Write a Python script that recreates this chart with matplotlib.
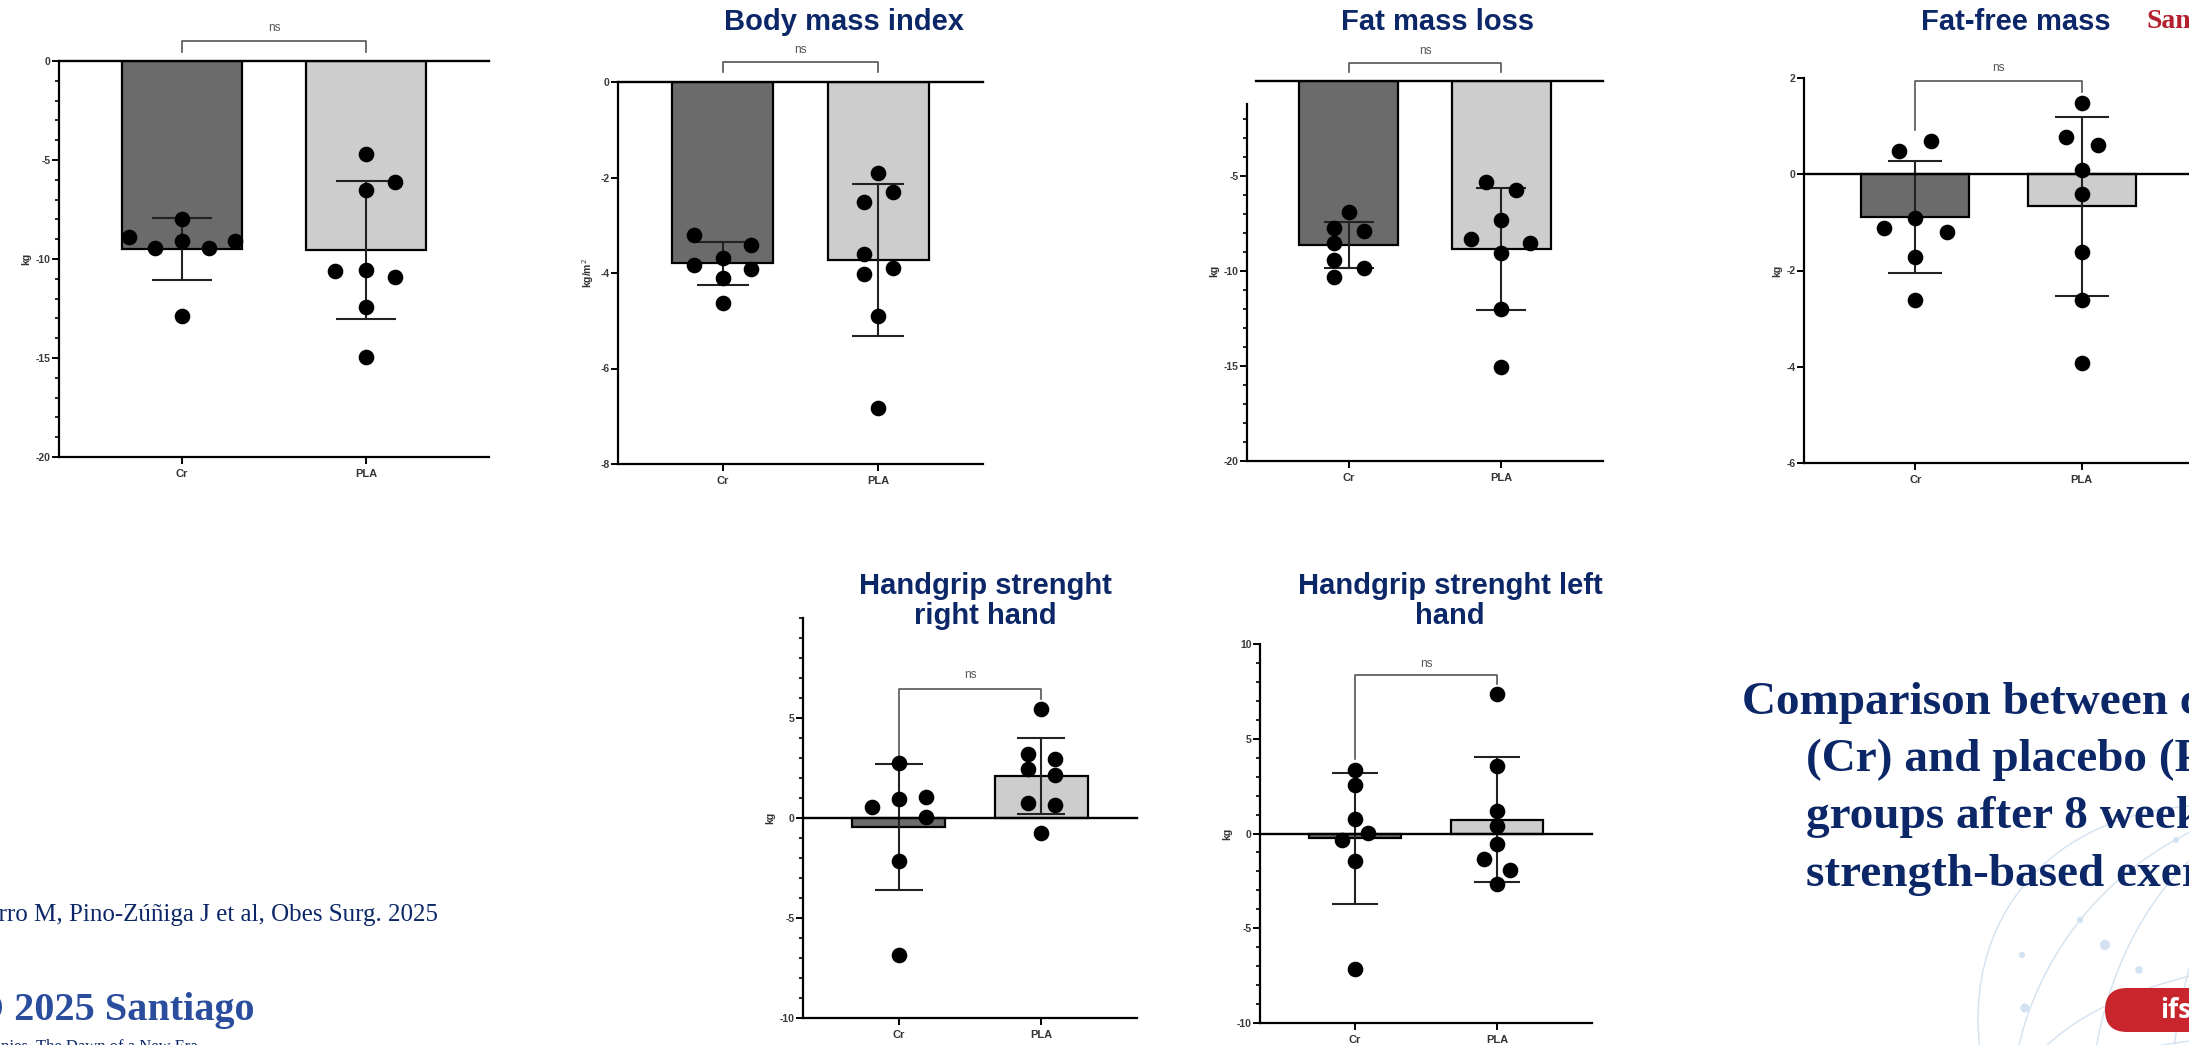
import matplotlib.pyplot as plt
import numpy as np
from matplotlib.patches import Ellipse, FancyBboxPatch
from matplotlib.ticker import FixedLocator

W, H = 2189, 1045
NAVY = "#0c2768"
CR_COLOR = "#6b6b6b"
PLA_COLOR = "#cdcdcd"

plt.rcParams["font.family"] = ["Liberation Sans", "DejaVu Sans"]
plt.rcParams["axes.unicode_minus"] = False

groups = ["Cr", "PLA"]

# body weight change (kg)
weight_mean = [-9.5, -9.55]
weight_sd = [1.55, 3.5]
weight_cr = [-8.9, -9.45, -8.0, -9.1, -9.45, -9.1, -12.9]
weight_cr_jitter = [-0.29, -0.145, 0, 0, 0.145, 0.29, 0]
weight_pla = [-4.7, -6.12, -6.54, -10.6, -10.55, -10.9, -12.43, -14.95]
weight_pla_jitter = [0, 0.16, 0, -0.166, 0, 0.16, 0, 0]

# body mass index change (kg/m2)
bmi_mean = [-3.80, -3.72]
bmi_sd = [0.45, 1.59]
bmi_cr = [-3.2, -3.83, -3.69, -4.11, -4.62, -3.41, -3.92]
bmi_cr_jitter = [-0.18, -0.18, 0, 0, 0, 0.18, 0.18]
bmi_pla = [-1.90, -2.31, -2.51, -3.60, -4.02, -3.90, -4.90, -6.82]
bmi_pla_jitter = [0, 0.09, -0.09, -0.09, -0.09, 0.09, 0, 0]

# fat mass change (kg)
fat_mean = [-8.64, -8.85]
fat_sd = [1.22, 3.22]
fat_cr = [-6.92, -7.73, -7.91, -8.50, -9.40, -9.83, -10.34]
fat_cr_jitter = [0, -0.098, 0.096, -0.098, -0.098, 0.096, -0.098]
fat_pla = [-5.31, -5.75, -7.33, -8.33, -8.50, -9.03, -12.02, -15.03]
fat_pla_jitter = [-0.098, 0.096, 0, -0.196, 0.19, 0, 0, 0]

# fat-free mass change (kg)
ffm_mean = [-0.89, -0.67]
ffm_sd = [1.17, 1.86]
ffm_cr = [0.49, 0.69, -0.91, -1.12, -1.21, -1.71, -2.62]
ffm_cr_jitter = [-0.096, 0.096, 0, -0.19, 0.19, 0, 0]
ffm_pla = [1.49, 0.78, 0.60, 0.08, -0.42, -1.62, -2.62, -3.93]
ffm_pla_jitter = [0, -0.094, 0.096, 0, 0, 0, 0, 0]

# handgrip right hand change (kg)
hgr_mean = [-0.45, 2.1]
hgr_sd = [3.16, 1.90]
hgr_cr = [0.55, 2.77, 0.97, 1.05, 0.05, -2.17, -6.87]
hgr_cr_jitter = [-0.19, 0, 0, 0.19, 0.19, 0, 0]
hgr_pla = [5.47, 3.18, 2.97, 2.47, 2.13, 0.75, 0.67, -0.75]
hgr_pla_jitter = [0, -0.097, 0.093, -0.097, 0.093, -0.097, 0.093, 0]

# handgrip left hand change (kg)
hgl_mean = [-0.25, 0.72]
hgl_sd = [3.45, 3.30]
hgl_cr = [3.37, 2.55, 0.79, 0.05, -0.35, -1.46, -7.15]
hgl_cr_jitter = [0, 0, 0, 0.094, -0.094, 0, 0]
hgl_pla = [7.38, 3.57, 1.18, 0.39, -0.53, -1.32, -1.93, -2.64]
hgl_pla_jitter = [0, 0, 0, 0, 0, -0.094, 0.094, 0]


def px_box(left, right, top, bottom):
    return [left / W, 1 - bottom / H, (right - left) / W, (bottom - top) / H]


def draw_panel(fig, box, ylim, means, sds, cr, cr_jit, pla, pla_jit,
               ylabel, yticks, minor, bracket, spine_top=None, zero_xmin=0):
    ax = fig.add_axes(px_box(*box), facecolor="none", zorder=2)
    ax.set_xlim(-0.67, 1.67)
    ax.set_ylim(*ylim)

    spacing_px = (box[1] - box[0]) / 2.34
    capsize = 0.165 * spacing_px * 72 / 100

    ax.bar([0, 1], means, width=0.65, color=[CR_COLOR, PLA_COLOR],
           edgecolor="black", linewidth=1.6, zorder=2)
    ax.errorbar([0, 1], means, yerr=sds, fmt="none", ecolor="#222222",
                elinewidth=1.5, capsize=capsize, capthick=1.5, zorder=3)
    ax.scatter(cr_jit, cr, s=105, color="black", zorder=4, clip_on=False)
    ax.scatter(1 + np.array(pla_jit), pla, s=105, color="black", zorder=4,
               clip_on=False)
    ax.axhline(0, xmin=zero_xmin, color="black", lw=1.7, zorder=3,
               clip_on=False)

    left_leg, top, right_leg, ns_y = bracket
    ax.plot([0, 0, 1, 1], [left_leg, top, top, right_leg], color="#555555",
            lw=1.2, clip_on=False)
    ax.text(0.5, ns_y, "ns", ha="center", va="center", fontsize=8.5,
            color="#555555", clip_on=False)

    for side in ["top", "right"]:
        ax.spines[side].set_visible(False)
    for side in ["left", "bottom"]:
        ax.spines[side].set_linewidth(1.6)
    spine_end = ylim[1] if spine_top is None else spine_top
    if spine_top is not None:
        ax.spines["left"].set_bounds(ylim[0], spine_top)

    ax.set_yticks(yticks)
    if minor:
        ax.yaxis.set_minor_locator(
            FixedLocator(np.arange(ylim[0], np.floor(spine_end) + 1, 1)))
    ax.tick_params(axis="y", which="major", length=5, width=1.4,
                   labelsize=7.5, labelcolor="#3a3a3a", pad=1)
    ax.tick_params(axis="y", which="minor", length=3, width=1.2)
    for lbl in ax.get_yticklabels():
        lbl.set_fontweight("bold")
    ax.set_xticks([0, 1], groups)
    ax.tick_params(axis="x", length=5, width=1.4, labelsize=8,
                   labelcolor="#333333")
    for lbl in ax.get_xticklabels():
        lbl.set_fontweight("bold")
    ax.set_ylabel(ylabel, fontsize=7.5, fontweight="bold", color="#333333",
                  labelpad=3)
    return ax


def draw_slide(bg):
    bg.set_xlim(0, W)
    bg.set_ylim(H, 0)
    bg.axis("off")

    # faint globe in the lower right corner
    globe = "#d3e2f0"
    cx, cy, r = 2330, 1120, 320
    for w in [2 * r, 1.5 * r, r, 0.5 * r]:
        bg.add_patch(Ellipse((cx, cy), w, 2 * r, fill=False, ec=globe, lw=1))
    for h in [r, 0.55 * r]:
        bg.add_patch(Ellipse((cx, cy), 2 * r, h, fill=False, ec=globe, lw=1))
    bg.add_patch(Ellipse((cx - 40, cy - 30), 2.1 * r, 1.6 * r, angle=35,
                         fill=False, ec=globe, lw=1))
    bg.scatter([2105, 2139, 2080, 2025, 2176, 2022], [945, 970, 920, 1008, 840, 955],
               s=[40, 20, 12, 30, 10, 12], color=globe, zorder=1)

    title_kw = dict(ha="center", va="center", fontsize=21, fontweight="bold",
                    color=NAVY)
    bg.text(844, 22, "Body mass index", **title_kw)
    bg.text(1438, 22, "Fat mass loss", **title_kw)
    bg.text(2016, 22, "Fat-free mass", **title_kw)
    bg.text(985, 601, "Handgrip strenght\nright hand", linespacing=1.1,
            **title_kw)
    bg.text(1450, 601, "Handgrip strenght left\nhand", linespacing=1.1,
            **title_kw)
    bg.text(2147, 22, "Santiago", ha="left", va="center", fontsize=20,
            fontweight="bold", color="#b3202e", family="Liberation Serif")

    lines = ["Comparison between creatine", "(Cr) and placebo (PLA)",
             "groups after 8 weeks of", "strength-based exercise"]
    starts = [1742, 1806, 1806, 1806]
    baselines = [714, 771, 828, 886]
    for text, x, y in zip(lines, starts, baselines):
        bg.text(x, y, text, ha="left", va="baseline", fontsize=34,
                fontweight="bold", color=NAVY, family="Liberation Serif")

    bg.text(438, 921, "Díaz-Pizarro M, Pino-Zúñiga J et al, Obes Surg. 2025",
            ha="right", va="baseline", fontsize=18, color=NAVY,
            family="Liberation Serif")
    bg.text(255, 1020, "IFSO 2025 Santiago", ha="right", va="baseline",
            fontsize=29, fontweight="bold", color="#2b4d9e",
            family="Liberation Serif")
    bg.text(198, 1039, "Metabolic Therapies. The Dawn of a New Era",
            ha="right", va="top", fontsize=12, color=NAVY,
            family="Liberation Serif")

    bg.add_patch(FancyBboxPatch((2105, 988), 200, 44,
                                boxstyle="round,pad=0,rounding_size=22",
                                fc="#c8252d", ec="none", zorder=3))
    bg.text(2160, 1011, "ifso", ha="left", va="center", fontsize=19,
            fontweight="bold", color="white", family="Open Sans", zorder=4)


def main():
    fig = plt.figure(figsize=(W / 100, H / 100), dpi=100)
    bg = fig.add_axes([0, 0, 1, 1], zorder=0)
    draw_slide(bg)

    draw_panel(fig, (59, 489, 61, 457), (-20, 0), weight_mean, weight_sd,
               weight_cr, weight_cr_jitter, weight_pla, weight_pla_jitter,
               "kg", [-20, -15, -10, -5, 0], True, (0.45, 1.01, 0.45, 1.67))
    draw_panel(fig, (618, 983, 82, 464), (-8, 0), bmi_mean, bmi_sd,
               bmi_cr, bmi_cr_jitter, bmi_pla, bmi_pla_jitter,
               "kg/m$^2$", [-8, -6, -4, -2, 0], False, (0.21, 0.42, 0.21, 0.67))
    draw_panel(fig, (1247, 1603, 81, 461), (-20, 0), fat_mean, fat_sd,
               fat_cr, fat_cr_jitter, fat_pla, fat_pla_jitter,
               "kg", [-20, -15, -10, -5], True, (0.45, 0.97, 0.45, 1.6),
               spine_top=-1.2, zero_xmin=0.025)
    draw_panel(fig, (1804, 2193, 78, 463), (-6, 2), ffm_mean, ffm_sd,
               ffm_cr, ffm_cr_jitter, ffm_pla, ffm_pla_jitter,
               "kg", [-6, -4, -2, 0, 2], False, (0.92, 1.94, 1.71, 2.2))
    draw_panel(fig, (803, 1137, 618, 1018), (-10, 10), hgr_mean, hgr_sd,
               hgr_cr, hgr_cr_jitter, hgr_pla, hgr_pla_jitter,
               "kg", [-10, -5, 0, 5], True, (2.97, 6.47, 5.97, 7.13))
    draw_panel(fig, (1260, 1592, 644, 1023), (-10, 10), hgl_mean, hgl_sd,
               hgl_cr, hgl_cr_jitter, hgl_pla, hgl_pla_jitter,
               "kg", [-10, -5, 0, 5, 10], True, (3.95, 8.35, 7.9, 8.96))

    fig.savefig("out.png", dpi=100)


if __name__ == "__main__":
    main()
